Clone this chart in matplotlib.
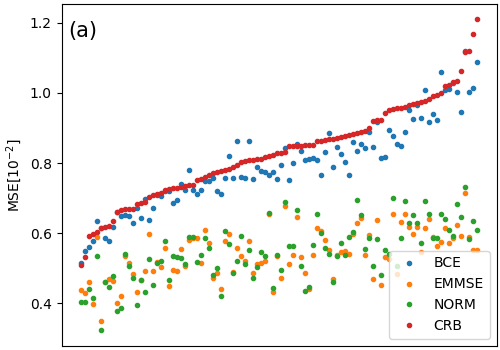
import numpy as np
import matplotlib
matplotlib.use("Agg")
import matplotlib.pyplot as plt


# MSE per test sample (units of 1e-2)
bce = [
    0.514, 0.550, 0.561, 0.578, 0.635, 0.614, 0.587, 0.578, 0.618, 0.660,
    0.650, 0.651, 0.649, 0.630, 0.671, 0.644, 0.698, 0.638, 0.671, 0.710,
    0.706, 0.720, 0.720, 0.686, 0.695, 0.741, 0.724, 0.781, 0.724, 0.712,
    0.723, 0.748, 0.748, 0.757, 0.721, 0.712, 0.757, 0.821, 0.757, 0.863,
    0.761, 0.757, 0.863, 0.754, 0.789, 0.777, 0.775, 0.765, 0.774, 0.754,
    0.794, 0.843, 0.751, 0.800, 0.855, 0.834, 0.809, 0.811, 0.814, 0.810,
    0.767, 0.831, 0.886, 0.789, 0.847, 0.826, 0.803, 0.766, 0.860, 0.835,
    0.855, 0.843, 0.889, 0.847, 0.918, 0.814, 0.818, 0.895, 0.877, 0.855,
    0.850, 0.889, 0.952, 0.927, 0.966, 0.930, 1.009, 0.918, 0.941, 0.924,
    1.061, 1.009, 1.011, 1.028, 1.003, 0.946, 1.121, 1.004, 1.014, 1.088,
]

emmse = [
    0.438, 0.429, 0.460, 0.398, 0.590, 0.350, 0.462, 0.470, 0.463, 0.400,
    0.421, 0.535, 0.514, 0.483, 0.431, 0.467, 0.492, 0.597, 0.492, 0.517,
    0.504, 0.557, 0.449, 0.494, 0.492, 0.556, 0.507, 0.581, 0.585, 0.586,
    0.514, 0.609, 0.572, 0.471, 0.486, 0.442, 0.577, 0.599, 0.488, 0.558,
    0.534, 0.520, 0.577, 0.486, 0.513, 0.515, 0.520, 0.656, 0.431, 0.534,
    0.471, 0.678, 0.511, 0.537, 0.647, 0.533, 0.486, 0.440, 0.539, 0.616,
    0.606, 0.580, 0.551, 0.468, 0.537, 0.545, 0.549, 0.542, 0.598, 0.628,
    0.642, 0.539, 0.594, 0.470, 0.637, 0.453, 0.532, 0.525, 0.656, 0.483,
    0.631, 0.656, 0.618, 0.599, 0.618, 0.545, 0.616, 0.640, 0.589, 0.563,
    0.575, 0.616, 0.571, 0.585, 0.623, 0.592, 0.716, 0.588, 0.551, 0.551,
]

norm = [
    0.403, 0.405, 0.440, 0.414, 0.534, 0.323, 0.462, 0.446, 0.477, 0.377,
    0.386, 0.540, 0.507, 0.471, 0.395, 0.465, 0.433, 0.526, 0.451, 0.514,
    0.520, 0.579, 0.466, 0.534, 0.533, 0.530, 0.513, 0.589, 0.589, 0.519,
    0.537, 0.586, 0.559, 0.480, 0.500, 0.420, 0.606, 0.568, 0.487, 0.520,
    0.593, 0.513, 0.553, 0.471, 0.503, 0.547, 0.534, 0.657, 0.443, 0.537,
    0.496, 0.688, 0.563, 0.563, 0.666, 0.506, 0.434, 0.445, 0.565, 0.656,
    0.600, 0.559, 0.542, 0.462, 0.534, 0.571, 0.539, 0.589, 0.604, 0.696,
    0.653, 0.554, 0.587, 0.507, 0.583, 0.482, 0.551, 0.540, 0.699, 0.507,
    0.585, 0.693, 0.628, 0.653, 0.628, 0.571, 0.691, 0.656, 0.585, 0.587,
    0.656, 0.640, 0.609, 0.592, 0.682, 0.647, 0.731, 0.583, 0.634, 0.609,
]

crb = [
    0.508, 0.532, 0.592, 0.597, 0.603, 0.616, 0.617, 0.620, 0.635, 0.660,
    0.667, 0.669, 0.669, 0.669, 0.684, 0.687, 0.690, 0.703, 0.709, 0.712,
    0.714, 0.722, 0.726, 0.728, 0.730, 0.733, 0.736, 0.737, 0.738, 0.752,
    0.755, 0.759, 0.767, 0.771, 0.774, 0.777, 0.780, 0.783, 0.788, 0.794,
    0.802, 0.807, 0.809, 0.810, 0.811, 0.813, 0.817, 0.819, 0.822, 0.828,
    0.830, 0.833, 0.849, 0.849, 0.850, 0.850, 0.851, 0.851, 0.853, 0.863,
    0.863, 0.865, 0.868, 0.870, 0.872, 0.875, 0.877, 0.879, 0.882, 0.885,
    0.889, 0.891, 0.901, 0.920, 0.922, 0.924, 0.943, 0.951, 0.955, 0.957,
    0.958, 0.960, 0.965, 0.968, 0.971, 0.974, 0.978, 0.984, 0.990, 0.994,
    1.001, 1.020, 1.024, 1.030, 1.035, 1.064, 1.118, 1.119, 1.169, 1.210,
]

labels = ["BCE", "EMMSE", "NORM", "CRB"]


def main():
    fig = plt.figure(figsize=(5, 3.5), dpi=100)
    ax = fig.add_axes([0.123, 0.012, 0.870, 0.977])

    for series, name in zip([bce, emmse, norm, crb], labels):
        ax.plot(np.arange(len(series)), series, ".", label=name)

    ax.set_xticks([])
    ax.set_ylabel("MSE[10$^{-2}$]")
    ax.text(0.015, 0.92, "(a)", transform=ax.transAxes,
            fontsize=15, va="center", ha="left")
    ax.legend(loc="lower right")

    fig.savefig("out.png", dpi=100)


if __name__ == "__main__":
    main()
